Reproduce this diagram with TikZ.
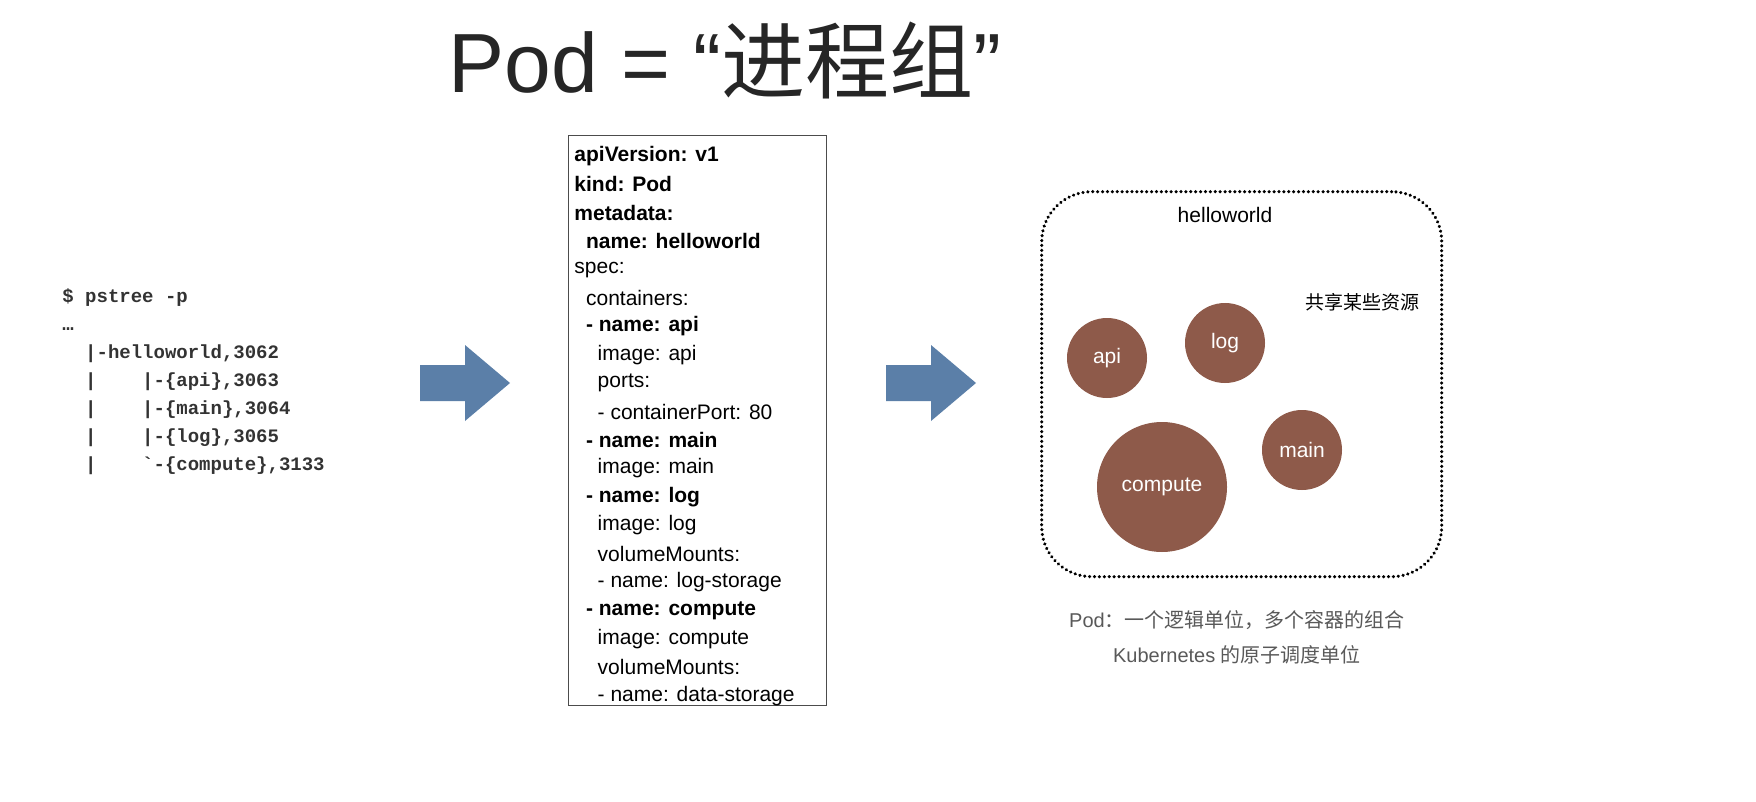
\documentclass[tikz,border=0pt]{standalone}
\usepackage{fontspec}
\setmainfont{Liberation Sans}
\newfontfamily\cjk{Noto Sans CJK SC}
\newfontfamily\mono{Liberation Mono}
\begin{document}
\begin{tikzpicture}[x=0.5pt,y=-0.5pt,every node/.style={transform shape},
  arr/.style={fill=arrowblue,draw=none},
  ctr/.style={circle,fill=podbrown,text=white,inner sep=0pt,font=\fontsize{10.5}{12}\selectfont},
  yl/.style={anchor=west,inner sep=0pt,font=\fontsize{10.5}{12}\selectfont}]
\definecolor{arrowblue}{HTML}{5B7FA8}
\definecolor{podbrown}{HTML}{8E5A4A}
\useasboundingbox (0,0) rectangle (1756,802);
\node (title) at (725,60) {\fontsize{42}{48}\selectfont\color{black!85}Pod = “\cjk 进程组\rmfamily”};
\node (ps) [anchor=north west,inner sep=0pt,align=left,font=\mono\bfseries\fontsize{9.5}{14}\selectfont,text=black!80] at (62,288) {%
\$ pstree -p\\ …\\ \ \ |-helloworld,3062\\ \ \ |\ \ \ \ |-\{api\},3063\\ \ \ |\ \ \ \ |-\{main\},3064\\ \ \ |\ \ \ \ |-\{log\},3065\\ \ \ |\ \ \ \ `-\{compute\},3133};
\fill[arr] (420,365) -- (465,365) -- (465,345) -- (510,383) -- (465,421) -- (465,401) -- (420,401) -- cycle;
\fill[arr] (886,365) -- (931,365) -- (931,345) -- (976,383) -- (931,421) -- (931,401) -- (886,401) -- cycle;
\node (box) [draw=black!70,line width=0.5pt,minimum width=129,minimum height=285,anchor=north west,inner sep=0pt] at (568,135) {};
\foreach \i/\t in {0/{\bfseries apiVersion: v1},1/{\bfseries kind: Pod},2/{\bfseries metadata:},3/{\bfseries \ \ name: helloworld},4/spec:,5/{\ \ containers:},6/{\bfseries \ \ - name: api},7/{\ \ \ \ image: api},8/{\ \ \ \ ports:},9/{\ \ \ \ - containerPort: 80},10/{\bfseries \ \ - name: main},11/{\ \ \ \ image: main},12/{\bfseries \ \ - name: log},13/{\ \ \ \ image: log},14/{\ \ \ \ volumeMounts:},15/{\ \ \ \ - name: log-storage},16/{\bfseries \ \ - name: compute},17/{\ \ \ \ image: compute},18/{\ \ \ \ volumeMounts:},19/{\ \ \ \ - name: data-storage}}
  \node[yl] (y\i) at (574,{156+28.4*\i}) {\t};
\node (pod) [draw=black,line width=1.7pt,dash pattern=on 0.05pt off 2.4pt,line cap=round,rounded corners=25,minimum width=200,minimum height=192.5,anchor=north west] at (1040,190) {};
\node (hw) at (1225,215) {\fontsize{10.5}{12}\selectfont helloworld};
\node (share) at (1362,302) {\cjk\fontsize{9.5}{12}\selectfont 共享某些资源};
\node[ctr,minimum size=40] (api) at (1107,358) {api};
\node[ctr,minimum size=40] (log) at (1225,343) {log};
\node[ctr,minimum size=40] (main) at (1302,450) {main};
\node[ctr,minimum size=65] (compute) at (1162,487) {compute};
\node (cap1) at (1237,620) {\fontsize{10}{12}\selectfont\color{black!65}Pod\cjk：一个逻辑单位，多个容器的组合};
\node (cap2) at (1237,655) {\fontsize{10}{12}\selectfont\color{black!65}Kubernetes {\cjk 的原子调度单位}};
\end{tikzpicture}
\end{document}
